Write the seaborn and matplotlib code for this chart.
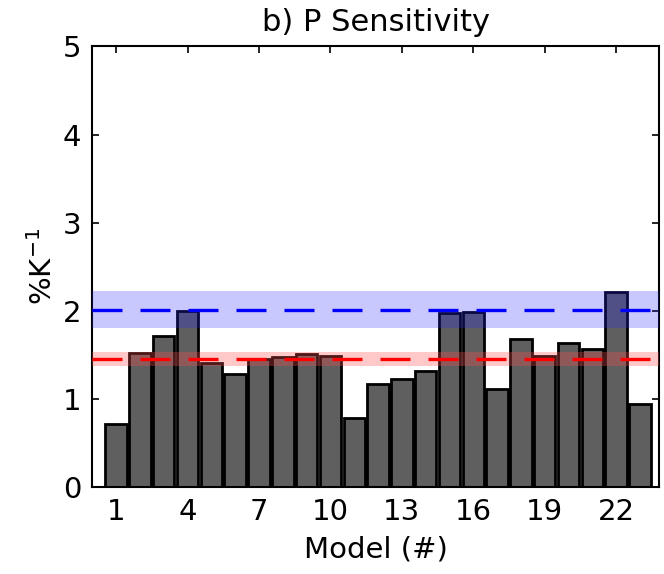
import matplotlib
matplotlib.use("Agg")
import matplotlib.pyplot as plt
import seaborn as sns
import pandas as pd

models = list(range(1, 24))
sensitivity = [0.71, 1.52, 1.71, 2.00, 1.41, 1.28, 1.45, 1.47, 1.51, 1.49,
               0.78, 1.17, 1.23, 1.32, 1.97, 1.99, 1.11, 1.68, 1.49, 1.64,
               1.57, 2.21, 0.94]
blue_mean, blue_lo, blue_hi = 2.01, 1.80, 2.22
red_mean, red_lo, red_hi = 1.45, 1.37, 1.53
xticks = [1, 4, 7, 10, 13, 16, 19, 22]
yticks = [0, 1, 2, 3, 4, 5]

sns.set_style("ticks")
plt.rcParams['font.family'] = ['DejaVu Sans']
plt.rcParams.update({"text.color": "black", "axes.labelcolor": "black",
                     "xtick.color": "black", "ytick.color": "black"})

df = pd.DataFrame({"model": models, "val": sensitivity})

fig = plt.figure(figsize=(6.64, 5.74), dpi=100)
ax = fig.add_axes([0.139, 0.1516, 0.8535, 0.7674])

sns.barplot(data=df, x="model", y="val", native_scale=True, width=0.9,
            color="#5f5f5f", saturation=1, edgecolor="black", linewidth=2.0,
            ax=ax, zorder=2)

ax.axhspan(blue_lo, blue_hi, color=(0.15, 0.15, 1.0), alpha=0.25, lw=0, zorder=3)
ax.axhspan(red_lo, red_hi, color=(1.0, 0.3, 0.3), alpha=0.3, lw=0, zorder=3)
ax.axhline(blue_mean, color="blue", ls=(0, (9, 5.4)), lw=2.4, zorder=4)
ax.axhline(red_mean, color="red", ls=(0, (9, 5.4)), lw=2.4, zorder=4)

ax.set_xlim(0, 23.8)
ax.set_ylim(0, 5)
ax.set_xticks(xticks)
ax.set_xticklabels([str(t) for t in xticks])
ax.set_yticks(yticks)
ax.tick_params(direction="in", top=True, right=True, length=5, width=1.2,
               labelsize=21, pad=8)
for s in ax.spines.values():
    s.set_linewidth(1.5)
    s.set_color("black")

ax.set_xlabel("Model (#)", fontsize=21, labelpad=7)
ax.set_ylabel("%K$^{-1}$", fontsize=21, labelpad=3)
ax.set_title("b) P Sensitivity", fontsize=22, pad=11)

fig.savefig("out.png", dpi=100)
